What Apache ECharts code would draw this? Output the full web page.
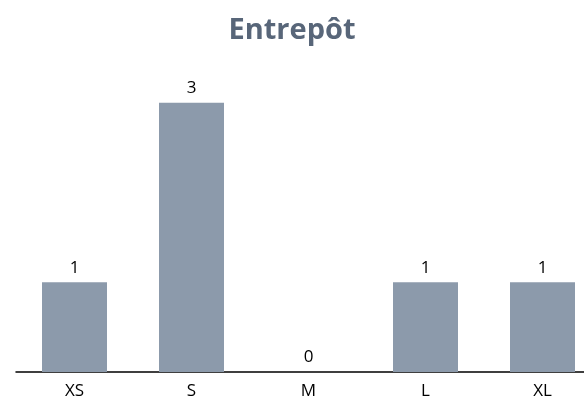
<!DOCTYPE html>
<html><head><meta charset="utf-8">
<script src="https://cdn.jsdelivr.net/npm/echarts@6/dist/echarts.min.js"></script>
<style>html,body{margin:0;padding:0;background:#fff;overflow:hidden;width:584px;height:407px}#c{width:601px;height:407px}</style>
</head><body><div id="c"></div>
<script>
const categories = ['XS','S','M','L','XL'];
const values = [1,3,0,1,1];
const chart = echarts.init(document.getElementById('c'));
chart.setOption({
  animation:false,
  title:{text:'Entrepôt',left:287,textAlign:'center',top:11,textStyle:{fontFamily:'Open Sans',fontWeight:'bold',fontSize:29,color:'#586679'}},
  grid:{left:16,right:0,top:58,height:314},
  xAxis:{type:'category',data:categories,axisLine:{lineStyle:{color:'#000',width:1.5}},axisTick:{show:false},
    axisLabel:{color:'#000',fontFamily:'Open Sans',fontSize:17,margin:11}},
  yAxis:{type:'value',min:0,max:3.5,show:false,splitLine:{show:false}},
  series:[{type:'bar',data:values,barWidth:65,itemStyle:{color:'#8c9aab'},
    label:{show:true,position:'top',color:'#000',fontFamily:'Open Sans',fontSize:17,distance:6}}]
});
</script></body></html>
